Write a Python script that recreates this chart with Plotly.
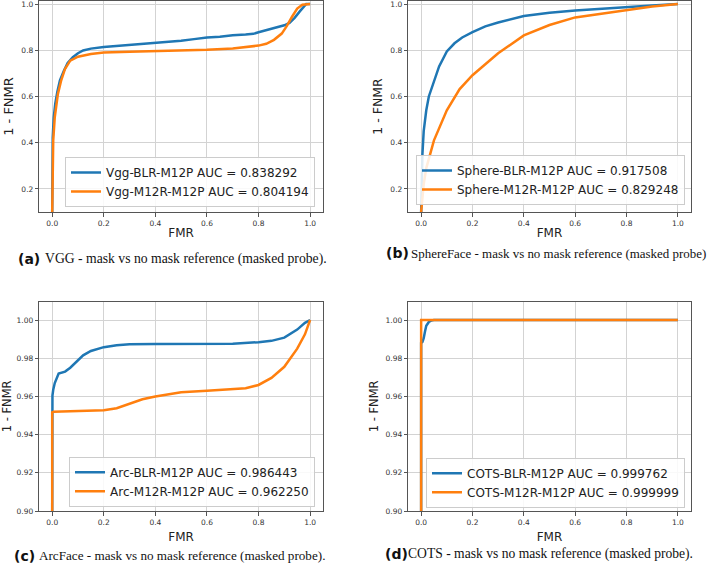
import plotly.graph_objects as go

W, H = 709, 568

# ---------------- data ----------------
vgg_blr_fmr = [0.0, 0.0005, 0.002, 0.006, 0.012, 0.02, 0.03, 0.045, 0.06, 0.08, 0.1, 0.12, 0.15, 0.2, 0.3, 0.4, 0.45, 0.5, 0.55, 0.6, 0.65, 0.7, 0.75, 0.78, 0.8, 0.85, 0.9, 0.92, 0.94, 0.96, 0.975, 0.985, 1.0]
vgg_blr_tpr = [0.1, 0.3, 0.42, 0.51, 0.57, 0.62, 0.67, 0.71, 0.745, 0.77, 0.787, 0.799, 0.807, 0.814, 0.823, 0.831, 0.835, 0.841, 0.848, 0.855, 0.858, 0.865, 0.868, 0.871, 0.878, 0.893, 0.908, 0.918, 0.94, 0.968, 0.99, 1.0, 1.0]
vgg_m12r_fmr = [0.0, 0.001, 0.004, 0.01, 0.022, 0.035, 0.05, 0.07, 0.1, 0.15, 0.2, 0.3, 0.4, 0.5, 0.6, 0.7, 0.75, 0.8, 0.83, 0.86, 0.89, 0.91, 0.93, 0.95, 0.97, 0.99, 1.0]
vgg_m12r_tpr = [0.1, 0.3, 0.41, 0.51, 0.61, 0.67, 0.72, 0.755, 0.772, 0.784, 0.79, 0.793, 0.795, 0.798, 0.802, 0.808, 0.813, 0.82, 0.828, 0.845, 0.872, 0.905, 0.945, 0.98, 0.997, 1.0, 1.0]

sphere_blr_fmr = [0.0, 0.002, 0.005, 0.01, 0.02, 0.03, 0.05, 0.07, 0.1, 0.13, 0.16, 0.2, 0.25, 0.3, 0.4, 0.5, 0.6, 0.7, 0.8, 0.9, 1.0]
sphere_blr_tpr = [0.1, 0.22, 0.35, 0.45, 0.54, 0.6, 0.67, 0.73, 0.795, 0.83, 0.855, 0.878, 0.903, 0.92, 0.948, 0.962, 0.972, 0.98, 0.987, 0.994, 1.0]
sphere_m12r_fmr = [0.0, 0.005, 0.01, 0.02, 0.03, 0.05, 0.1, 0.15, 0.2, 0.3, 0.4, 0.5, 0.6, 0.7, 0.8, 0.9, 1.0]
sphere_m12r_tpr = [0.1, 0.18, 0.22, 0.29, 0.33, 0.41, 0.54, 0.632, 0.692, 0.787, 0.864, 0.909, 0.942, 0.958, 0.975, 0.989, 1.0]

arc_blr_fmr = [0.0, 0.0, 0.001, 0.004, 0.01, 0.025, 0.05, 0.07, 0.1, 0.12, 0.15, 0.2, 0.25, 0.3, 0.4, 0.5, 0.6, 0.7, 0.8, 0.85, 0.9, 0.95, 0.98, 1.0]
arc_blr_tpr = [0.9, 0.952, 0.9605, 0.9635, 0.967, 0.972, 0.973, 0.975, 0.979, 0.9815, 0.9838, 0.9858, 0.9868, 0.9873, 0.9875, 0.9875, 0.9875, 0.9876, 0.9884, 0.9891, 0.9908, 0.995, 0.9985, 1.0]
arc_m12r_fmr = [0.0, 0.0, 0.005, 0.05, 0.1, 0.15, 0.2, 0.25, 0.3, 0.35, 0.4, 0.45, 0.5, 0.6, 0.7, 0.75, 0.8, 0.85, 0.9, 0.95, 0.98, 1.0]
arc_m12r_tpr = [0.9, 0.9517, 0.952, 0.9522, 0.9523, 0.9524, 0.9528, 0.9538, 0.9562, 0.9585, 0.96, 0.9612, 0.9622, 0.963, 0.9637, 0.9643, 0.966, 0.9697, 0.9755, 0.985, 0.9925, 1.0]

cots_blr_fmr = [0.0, 0.0, 0.005, 0.01, 0.015, 0.02, 0.03, 0.04, 0.05, 1.0]
cots_blr_tpr = [0.9, 0.988, 0.9885, 0.9905, 0.994, 0.997, 0.999, 0.9998, 1.0, 1.0]
cots_m12r_fmr = [0.0, 0.0, 1.0]
cots_m12r_tpr = [0.9, 1.0, 1.0]

series_names = [
    ("Vgg-BLR-M12P AUC = 0.838292", "Vgg-M12R-M12P AUC = 0.804194"),
    ("Sphere-BLR-M12P AUC = 0.917508", "Sphere-M12R-M12P AUC = 0.829248"),
    ("Arc-BLR-M12P AUC = 0.986443", "Arc-M12R-M12P AUC = 0.962250"),
    ("COTS-BLR-M12P AUC = 0.999762", "COTS-M12R-M12P AUC = 0.999999"),
]
caption_tags = ["(a)", "(b)", "(c)", "(d)"]
caption_texts = [
    "VGG - mask vs no mask reference (masked probe).",
    "SphereFace - mask vs no mask reference (masked probe)",
    "ArcFace - mask vs no mask reference (masked probe).",
    "COTS - mask vs no mask reference (masked probe).",
]
x_tick_vals = [0.0, 0.2, 0.4, 0.6, 0.8, 1.0]
y_tick_vals_top = [0.2, 0.4, 0.6, 0.8, 1.0]
y_tick_vals_bottom = [0.90, 0.92, 0.94, 0.96, 0.98, 1.00]

curves = [
    ((vgg_blr_fmr, vgg_blr_tpr), (vgg_m12r_fmr, vgg_m12r_tpr)),
    ((sphere_blr_fmr, sphere_blr_tpr), (sphere_m12r_fmr, sphere_m12r_tpr)),
    ((arc_blr_fmr, arc_blr_tpr), (arc_m12r_fmr, arc_m12r_tpr)),
    ((cots_blr_fmr, cots_blr_tpr), (cots_m12r_fmr, cots_m12r_tpr)),
]

# ---------------- layout geometry (pixels) ----------------
def px_x(p):
    return p / W

def px_y(p):
    return 1 - p / H

panels = [
    # (left, right, top, bottom) in px
    (39.3, 323.0, 1.0, 212.0),
    (408.3, 690.7, 1.0, 212.0),
    (39.3, 323.0, 301.7, 511.0),
    (408.3, 690.7, 301.7, 511.0),
]
legend_pos = [(315, 207), (685, 205), (315, 506.7), (685, 507.7)]
caption_pos = [(16, 43.0, 259), (384, 408.5, 253), (12, 36.5, 555.7), (382.5, 406.0, 554.3)]
caption_sizes = [13.7, 12.95, 13.15, 13.6]
ylabel_sizes = [13, 12.5, 11.5, 11.5]
xlabel_standoff = [2, 2, 7, 7]

BLUE = "#1f77b4"
ORANGE = "#ff7f0e"
SANS = "DejaVu Sans"
SERIF = "Liberation Serif"

fig = go.Figure()
layout = dict(
    width=W, height=H,
    margin=dict(l=0, r=0, t=0, b=0, autoexpand=False),
    paper_bgcolor="white", plot_bgcolor="white",
    font=dict(family=SANS, color="#222"),
    showlegend=True,
)
annotations = []

for i in range(4):
    xa = "x" if i == 0 else f"x{i+1}"
    ya = "y" if i == 0 else f"y{i+1}"
    lg = "legend" if i == 0 else f"legend{i+1}"
    (bx, by), (ox, oy) = curves[i]
    fig.add_trace(go.Scatter(x=bx, y=by, mode="lines", name=series_names[i][0],
                             line=dict(color=BLUE, width=2.5), xaxis=xa, yaxis=ya, legend=lg))
    fig.add_trace(go.Scatter(x=ox, y=oy, mode="lines", name=series_names[i][1],
                             line=dict(color=ORANGE, width=2.5), xaxis=xa, yaxis=ya, legend=lg))
    l, r, t, b = panels[i]
    axkey = "xaxis" if i == 0 else f"xaxis{i+1}"
    aykey = "yaxis" if i == 0 else f"yaxis{i+1}"
    common = dict(showline=True, mirror=True, linecolor="#555", linewidth=1,
                  showgrid=True, gridcolor="#d3d3d3", gridwidth=1, zeroline=False,
                  ticks="outside", ticklen=3.5, tickcolor="#555", tickwidth=1,
                  automargin=False, ticklabeloverflow="allow",
                  tickfont=dict(family=SANS, size=7.5, color="#333"))
    layout[axkey] = dict(common, domain=[px_x(l), px_x(r)], anchor=ya,
                         range=[-0.05, 1.05], tickvals=x_tick_vals, tickformat=".1f",
                         title=dict(text="FMR", font=dict(family=SANS, size=12, color="#222"),
                                    standoff=xlabel_standoff[i]))
    if i < 2:
        yr = [0.1, 1.013]
        yt = y_tick_vals_top
        yf = ".1f"
    else:
        yr = [0.9, 1.0096]
        yt = y_tick_vals_bottom
        yf = ".2f"
    layout[aykey] = dict(common, domain=[px_y(b), px_y(t)], anchor=xa,
                         range=yr, tickvals=yt, tickformat=yf,
                         title=dict(text="1 - FNMR", font=dict(family=SANS, size=ylabel_sizes[i], color="#222"), standoff=4))
    lx, lyb = legend_pos[i]
    layout[lg] = dict(x=px_x(lx), y=px_y(lyb), xanchor="right", yanchor="bottom",
                      bgcolor="rgba(255,255,255,0.85)", bordercolor="#cccccc", borderwidth=1,
                      font=dict(family=SANS, size=12, color="#222"), tracegroupgap=0,
                      itemclick=False)
    tx, cx, cy = caption_pos[i]
    annotations.append(dict(x=px_x(tx), y=px_y(cy), xref="paper", yref="paper",
                            xanchor="left", yanchor="middle", showarrow=False,
                            text="<b>" + caption_tags[i] + "</b>",
                            font=dict(family=SANS, size=14, color="#111")))
    annotations.append(dict(x=px_x(cx), y=px_y(cy), xref="paper", yref="paper",
                            xanchor="left", yanchor="middle", showarrow=False,
                            text=caption_texts[i],
                            font=dict(family=SERIF, size=caption_sizes[i], color="#111")))

layout["annotations"] = annotations
fig.update_layout(**layout)
fig.write_html(
    "out.html",
    config={"displayModeBar": False, "staticPlot": True},
    post_script="document.body.style.margin='0px';document.body.style.padding='0px';document.body.style.overflow='hidden';",
)
